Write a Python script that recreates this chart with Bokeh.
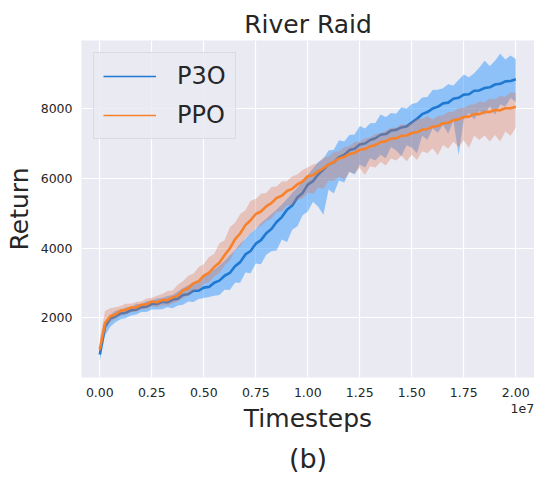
from bokeh.plotting import figure
from bokeh.models import Legend, LegendItem, FixedTicker, Title, LinearAxis
from bokeh.embed import file_html
from bokeh.resources import INLINE

# ---------------- data (timesteps in units of 1e7) ----------------
x = [0.0, 0.025, 0.05, 0.075, 0.1, 0.125, 0.15, 0.175, 0.2, 0.225,
     0.25, 0.275, 0.3, 0.325, 0.35, 0.375, 0.4, 0.425, 0.45, 0.475,
     0.5, 0.525, 0.55, 0.575, 0.6, 0.625, 0.65, 0.675, 0.7, 0.725,
     0.75, 0.775, 0.8, 0.825, 0.85, 0.875, 0.9, 0.925, 0.95, 0.975,
     1.0, 1.025, 1.05, 1.075, 1.1, 1.125, 1.15, 1.175, 1.2, 1.225,
     1.25, 1.275, 1.3, 1.325, 1.35, 1.375, 1.4, 1.425, 1.45, 1.475,
     1.5, 1.525, 1.55, 1.575, 1.6, 1.625, 1.65, 1.675, 1.7, 1.725,
     1.75, 1.775, 1.8, 1.825, 1.85, 1.875, 1.9, 1.925, 1.95, 1.975,
     2.0]

p3o_mean = [950, 1750, 1980, 2040, 2130, 2150, 2220, 2240, 2310, 2330,
            2400, 2400, 2460, 2450, 2520, 2550, 2660, 2680, 2780, 2780,
            2870, 2890, 3010, 3070, 3210, 3290, 3480, 3600, 3820, 3920,
            4130, 4230, 4430, 4550, 4750, 4890, 5100, 5220, 5450, 5580,
            5820, 5920, 6110, 6250, 6400, 6460, 6610, 6670, 6810, 6850,
            6970, 7000, 7100, 7150, 7250, 7270, 7370, 7390, 7460, 7490,
            7600, 7710, 7840, 7900, 8000, 8050, 8150, 8170, 8280, 8310,
            8400, 8410, 8510, 8520, 8590, 8610, 8690, 8710, 8780, 8790,
            8840]
p3o_hi = [1150, 1900, 2080, 2210, 2230, 2310, 2310, 2410, 2390, 2480,
          2510, 2560, 2580, 2630, 2660, 2760, 2860, 2940, 3020, 3090,
          3180, 3280, 3390, 3500, 3640, 3800, 3940, 4130, 4270, 4430,
          4560, 4720, 4840, 4980, 5110, 5250, 5410, 5580, 5730, 5920,
          6100, 6280, 6470, 6560, 6800, 6820, 7090, 7060, 7240, 7260,
          7500, 7430, 7580, 7590, 7830, 7760, 7870, 7850, 8040, 8000,
          8130, 8170, 8320, 8330, 8530, 8540, 8580, 8700, 8660, 8820,
          8980, 8900, 9010, 9180, 9370, 9220, 9370, 9570, 9410, 9520,
          9420]
p3o_lo = [760, 1500, 1750, 1880, 1960, 2000, 2070, 2100, 2170, 2170,
          2240, 2240, 2250, 2310, 2280, 2360, 2380, 2470, 2460, 2540,
          2570, 2600, 2640, 2660, 2810, 2800, 3010, 3010, 3300, 3280,
          3560, 3540, 3810, 3910, 3930, 4250, 4180, 4530, 4630, 4940,
          5050, 5330, 5190, 4960, 5680, 5570, 5940, 5880, 6190, 6110,
          6400, 6310, 6580, 6510, 6680, 6580, 6900, 6800, 6640, 6950,
          6880, 6720, 7220, 7110, 7430, 7310, 7530, 7280, 7660, 6670,
          7680, 7870, 7690, 7930, 7820, 8070, 7820, 8120, 8060, 8300,
          8190]

ppo_mean = [1100, 1850, 2050, 2100, 2210, 2230, 2300, 2300, 2380, 2390,
            2470, 2450, 2510, 2510, 2590, 2640, 2790, 2850, 2990, 3050,
            3210, 3290, 3460, 3580, 3800, 3990, 4250, 4420, 4660, 4800,
            4980, 5050, 5200, 5290, 5440, 5500, 5640, 5700, 5830, 5910,
            6060, 6090, 6200, 6290, 6400, 6470, 6570, 6610, 6700, 6730,
            6820, 6840, 6920, 6950, 7040, 7060, 7140, 7150, 7220, 7230,
            7300, 7320, 7400, 7410, 7480, 7500, 7580, 7590, 7670, 7690,
            7760, 7770, 7840, 7840, 7900, 7900, 7960, 7950, 8010, 8010,
            8050]
ppo_hi = [1400, 2200, 2280, 2310, 2340, 2410, 2410, 2460, 2480, 2560,
          2580, 2640, 2690, 2770, 2790, 2950, 3050, 3210, 3270, 3460,
          3540, 3750, 3840, 4140, 4230, 4600, 4730, 4980, 5090, 5360,
          5410, 5560, 5580, 5750, 5770, 5910, 5920, 6060, 6110, 6240,
          6320, 6400, 6430, 6600, 6630, 6760, 6780, 6890, 6930, 7040,
          7060, 7150, 7180, 7280, 7290, 7370, 7450, 7450, 7550, 7540,
          7610, 7710, 7700, 7780, 7690, 7790, 7810, 7900, 7910, 8020,
          8020, 8110, 8120, 8200, 8180, 8290, 8260, 8360, 8340, 8470,
          8450]
ppo_lo = [950, 1650, 1880, 1980, 2070, 2100, 2170, 2180, 2240, 2260,
          2330, 2310, 2360, 2360, 2420, 2470, 2570, 2640, 2770, 2810,
          2970, 3020, 3190, 3290, 3500, 3650, 3930, 4050, 4290, 4410,
          4580, 4640, 4780, 4850, 5040, 5060, 5220, 5230, 5390, 5420,
          5590, 5550, 5730, 5700, 5930, 5930, 6050, 5970, 6180, 6140,
          6300, 6100, 6350, 6310, 6470, 6370, 6570, 6510, 6650, 6490,
          6680, 6530, 6780, 6720, 6860, 6660, 6960, 6850, 7050, 6900,
          7090, 6880, 7220, 7100, 7230, 7060, 7240, 7060, 7340, 7220,
          7450]

x_ticks = [0.0, 0.25, 0.5, 0.75, 1.0, 1.25, 1.5, 1.75, 2.0]
x_tick_labels = ["0.00", "0.25", "0.50", "0.75", "1.00", "1.25", "1.50", "1.75", "2.00"]
x_offset_text = "1e7"
x_offset_pos = 2.035          # where matplotlib's offset text sits
y_ticks = [2000, 4000, 6000, 8000]
y_tick_labels = ["2000", "4000", "6000", "8000"]
series_names = ["P3O", "PPO"]

# ---------------- figure ----------------
p = figure(width=534, height=478, x_range=(-0.088, 2.090), y_range=(294, 9951),
           output_backend="svg", toolbar_location=None,
           min_border_left=81, min_border_right=0,
           min_border_top=40, min_border_bottom=100)
p.background_fill_color = "#EAEAF2"
p.border_fill_color = "white"
p.outline_line_color = None

BLUE, BLUE_FILL = "#1f78d1", "#1e90ff"
ORANGE, ORANGE_FILL = "#f7822b", "#dc785a"
TXT = "#262626"

p.varea(x=x, y1=p3o_lo, y2=p3o_hi, fill_color=BLUE_FILL, fill_alpha=0.45)
p.line(x, p3o_mean, line_color=BLUE, line_width=2.6)
p.varea(x=x, y1=ppo_lo, y2=ppo_hi, fill_color=ORANGE_FILL, fill_alpha=0.35)
p.line(x, ppo_mean, line_color=ORANGE, line_width=2.6)

# legend proxies: single-point lines (draw nothing) with thin strokes
r1 = p.line(x[:1], p3o_mean[:1], line_color=BLUE, line_width=1.6)
r2 = p.line(x[:1], ppo_mean[:1], line_color=ORANGE, line_width=1.6)
legend = Legend(items=[LegendItem(label=series_names[0], renderers=[r1]),
                       LegendItem(label=series_names[1], renderers=[r2])],
                location="top_left", margin=12, padding=9, spacing=11,
                glyph_width=53, glyph_height=28, label_height=28,
                label_standoff=21,
                label_text_font="DejaVu Sans", label_text_font_size="24px",
                label_text_color=TXT,
                border_line_color="#cccccc", border_line_width=1,
                background_fill_color="#EAEAF2", background_fill_alpha=0.8)
p.add_layout(legend)

# title
p.add_layout(Title(text="River Raid", align="center", text_font="DejaVu Sans",
                   text_font_size="25px", text_font_style="normal",
                   text_color=TXT, standoff=4), "above")


def style_axis(ax):
    ax.axis_line_color = None
    ax.major_tick_line_color = None
    ax.minor_tick_line_color = None
    ax.major_tick_out = 0
    ax.major_tick_in = 0
    ax.major_label_text_font = "DejaVu Sans"
    ax.major_label_text_font_size = "12.5px"
    ax.major_label_text_color = TXT
    ax.major_label_standoff = 9
    ax.axis_label_text_font = "DejaVu Sans"
    ax.axis_label_text_font_size = "25px"
    ax.axis_label_text_font_style = "normal"
    ax.axis_label_text_color = TXT


# main axes
p.xaxis.ticker = FixedTicker(ticks=x_ticks)
p.xaxis.major_label_overrides = dict(zip(x_ticks, x_tick_labels))
p.yaxis.ticker = FixedTicker(ticks=y_ticks)
p.yaxis.major_label_overrides = dict(zip(y_ticks, y_tick_labels))
style_axis(p.xaxis[0])
style_axis(p.yaxis[0])
p.xaxis.major_label_standoff = 10
p.yaxis.axis_label = "Return"
p.yaxis.axis_label_standoff = 4

# second bottom axis: carries the offset text "1e7" and the axis title
off_axis = LinearAxis(ticker=FixedTicker(ticks=[x_offset_pos]),
                      major_label_overrides={x_offset_pos: x_offset_text})
style_axis(off_axis)
off_axis.major_label_standoff = 4
off_axis.axis_label = "Timesteps"
off_axis.axis_label_standoff = -12
p.add_layout(off_axis, "below")

p.xgrid.grid_line_color = "white"
p.ygrid.grid_line_color = "white"
p.xgrid.grid_line_width = 1.2
p.ygrid.grid_line_width = 1.2

# caption
p.add_layout(Title(text="(b)", align="center", text_font="DejaVu Sans",
                   text_font_size="27px", text_font_style="normal",
                   text_color=TXT, standoff=10), "below")

open("out.html", "w").write(file_html(p, INLINE))
